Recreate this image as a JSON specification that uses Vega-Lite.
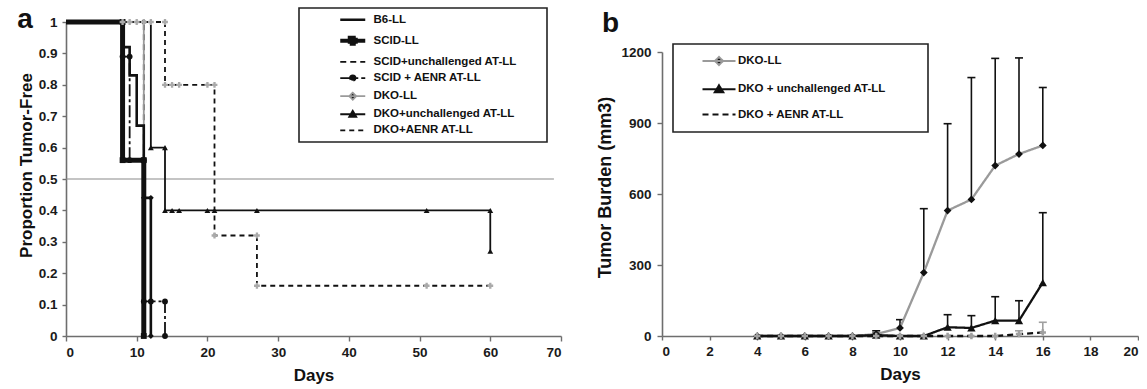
{
  "$schema": "https://vega.github.io/schema/vega-lite/v6.json",
  "background": "white",
  "padding": {"left": 17, "top": 6, "right": 0, "bottom": 0},
  "spacing": 34,
  "resolve": {
    "scale": {"color": "independent", "shape": "independent", "fill": "independent", "strokeDash": "independent"},
    "legend": {"color": "independent", "shape": "independent", "fill": "independent", "strokeDash": "independent"}
  },
  "datasets": {
    "km": [
      {"s": "B6-LL", "day": 0, "p": 1}, {"s": "B6-LL", "day": 8, "p": 0.92}, {"s": "B6-LL", "day": 9, "p": 0.83}, {"s": "B6-LL", "day": 10, "p": 0.67}, {"s": "B6-LL", "day": 11, "p": 0.44}, {"s": "B6-LL", "day": 12, "p": 0},
      {"s": "SCID-LL", "day": 0, "p": 1}, {"s": "SCID-LL", "day": 8, "p": 1}, {"s": "SCID-LL", "day": 8, "p": 0.56}, {"s": "SCID-LL", "day": 11, "p": 0.56}, {"s": "SCID-LL", "day": 11, "p": 0},
      {"s": "SCID+unchallenged AT-LL", "day": 0, "p": 1}, {"s": "SCID+unchallenged AT-LL", "day": 11, "p": 1}, {"s": "SCID+unchallenged AT-LL", "day": 11, "p": 0},
      {"s": "SCID + AENR AT-LL", "day": 0, "p": 1}, {"s": "SCID + AENR AT-LL", "day": 8, "p": 0.89}, {"s": "SCID + AENR AT-LL", "day": 9, "p": 0.89}, {"s": "SCID + AENR AT-LL", "day": 9, "p": 0.56}, {"s": "SCID + AENR AT-LL", "day": 11, "p": 0.56}, {"s": "SCID + AENR AT-LL", "day": 11, "p": 0.11}, {"s": "SCID + AENR AT-LL", "day": 12, "p": 0.11}, {"s": "SCID + AENR AT-LL", "day": 14, "p": 0.11}, {"s": "SCID + AENR AT-LL", "day": 14, "p": 0},
      {"s": "DKO-LL", "day": 0, "p": 1}, {"s": "DKO-LL", "day": 11, "p": 1}, {"s": "DKO-LL", "day": 11, "p": 0.44}, {"s": "DKO-LL", "day": 12, "p": 0.44}, {"s": "DKO-LL", "day": 12, "p": 0},
      {"s": "DKO+unchallenged AT-LL", "day": 0, "p": 1}, {"s": "DKO+unchallenged AT-LL", "day": 12, "p": 0.6}, {"s": "DKO+unchallenged AT-LL", "day": 14, "p": 0.6}, {"s": "DKO+unchallenged AT-LL", "day": 14, "p": 0.4}, {"s": "DKO+unchallenged AT-LL", "day": 15, "p": 0.4}, {"s": "DKO+unchallenged AT-LL", "day": 16, "p": 0.4}, {"s": "DKO+unchallenged AT-LL", "day": 20, "p": 0.4}, {"s": "DKO+unchallenged AT-LL", "day": 21, "p": 0.4}, {"s": "DKO+unchallenged AT-LL", "day": 27, "p": 0.4}, {"s": "DKO+unchallenged AT-LL", "day": 51, "p": 0.4}, {"s": "DKO+unchallenged AT-LL", "day": 60, "p": 0.4}, {"s": "DKO+unchallenged AT-LL", "day": 60, "p": 0.27},
      {"s": "DKO+AENR AT-LL", "day": 0, "p": 1}, {"s": "DKO+AENR AT-LL", "day": 8, "p": 1}, {"s": "DKO+AENR AT-LL", "day": 9, "p": 1}, {"s": "DKO+AENR AT-LL", "day": 10, "p": 1}, {"s": "DKO+AENR AT-LL", "day": 11, "p": 1}, {"s": "DKO+AENR AT-LL", "day": 12, "p": 1}, {"s": "DKO+AENR AT-LL", "day": 14, "p": 1}, {"s": "DKO+AENR AT-LL", "day": 14, "p": 0.8}, {"s": "DKO+AENR AT-LL", "day": 15, "p": 0.8}, {"s": "DKO+AENR AT-LL", "day": 16, "p": 0.8}, {"s": "DKO+AENR AT-LL", "day": 20, "p": 0.8}, {"s": "DKO+AENR AT-LL", "day": 21, "p": 0.8}, {"s": "DKO+AENR AT-LL", "day": 21, "p": 0.32}, {"s": "DKO+AENR AT-LL", "day": 27, "p": 0.32}, {"s": "DKO+AENR AT-LL", "day": 27, "p": 0.16}, {"s": "DKO+AENR AT-LL", "day": 51, "p": 0.16}, {"s": "DKO+AENR AT-LL", "day": 60, "p": 0.16}
    ],
    "burden": [
      {"s": "DKO-LL", "day": 4, "mean": 0, "upper": null}, {"s": "DKO-LL", "day": 5, "mean": 0, "upper": null}, {"s": "DKO-LL", "day": 6, "mean": 0, "upper": null}, {"s": "DKO-LL", "day": 7, "mean": 0, "upper": null}, {"s": "DKO-LL", "day": 8, "mean": 0, "upper": null}, {"s": "DKO-LL", "day": 9, "mean": 8, "upper": 22}, {"s": "DKO-LL", "day": 10, "mean": 34, "upper": 69}, {"s": "DKO-LL", "day": 11, "mean": 268, "upper": 538}, {"s": "DKO-LL", "day": 12, "mean": 530, "upper": 897}, {"s": "DKO-LL", "day": 13, "mean": 577, "upper": 1092}, {"s": "DKO-LL", "day": 14, "mean": 720, "upper": 1173}, {"s": "DKO-LL", "day": 15, "mean": 769, "upper": 1175}, {"s": "DKO-LL", "day": 16, "mean": 805, "upper": 1050},
      {"s": "DKO + unchallenged AT-LL", "day": 4, "mean": 0, "upper": null}, {"s": "DKO + unchallenged AT-LL", "day": 5, "mean": 0, "upper": null}, {"s": "DKO + unchallenged AT-LL", "day": 6, "mean": 0, "upper": null}, {"s": "DKO + unchallenged AT-LL", "day": 7, "mean": 0, "upper": null}, {"s": "DKO + unchallenged AT-LL", "day": 8, "mean": 0, "upper": null}, {"s": "DKO + unchallenged AT-LL", "day": 9, "mean": 4, "upper": 12}, {"s": "DKO + unchallenged AT-LL", "day": 10, "mean": 0, "upper": null}, {"s": "DKO + unchallenged AT-LL", "day": 11, "mean": 0, "upper": null}, {"s": "DKO + unchallenged AT-LL", "day": 12, "mean": 37, "upper": 90}, {"s": "DKO + unchallenged AT-LL", "day": 13, "mean": 34, "upper": 86}, {"s": "DKO + unchallenged AT-LL", "day": 14, "mean": 65, "upper": 166}, {"s": "DKO + unchallenged AT-LL", "day": 15, "mean": 65, "upper": 149}, {"s": "DKO + unchallenged AT-LL", "day": 16, "mean": 226, "upper": 521},
      {"s": "DKO + AENR AT-LL", "day": 4, "mean": 0, "upper": null}, {"s": "DKO + AENR AT-LL", "day": 5, "mean": 0, "upper": null}, {"s": "DKO + AENR AT-LL", "day": 6, "mean": 0, "upper": null}, {"s": "DKO + AENR AT-LL", "day": 7, "mean": 0, "upper": null}, {"s": "DKO + AENR AT-LL", "day": 8, "mean": 0, "upper": null}, {"s": "DKO + AENR AT-LL", "day": 9, "mean": 0, "upper": null}, {"s": "DKO + AENR AT-LL", "day": 10, "mean": 0, "upper": null}, {"s": "DKO + AENR AT-LL", "day": 11, "mean": 0, "upper": null}, {"s": "DKO + AENR AT-LL", "day": 12, "mean": 0, "upper": null}, {"s": "DKO + AENR AT-LL", "day": 13, "mean": 0, "upper": null}, {"s": "DKO + AENR AT-LL", "day": 14, "mean": 0, "upper": null}, {"s": "DKO + AENR AT-LL", "day": 15, "mean": 8, "upper": 22}, {"s": "DKO + AENR AT-LL", "day": 16, "mean": 15, "upper": 58}
    ]
  },
  "hconcat": [
    {
      "width": 495,
      "height": 314,
      "data": {"name": "km"},
      "title": {"text": "a", "anchor": "start", "frame": "bounds", "fontSize": 28, "fontWeight": "bold", "font": "Liberation Sans", "color": "#111", "baseline": "alphabetic", "offset": 0, "dx": 0, "dy": 49},
      "layer": [
        {
          "data": {"values": [{"level": 0.5, "from": 0, "to": 69}]},
          "mark": {"type": "rule", "color": "#8a8a8a", "strokeWidth": 1.2},
          "encoding": {
            "y": {"field": "level", "type": "quantitative", "scale": {"domain": [0, 1], "nice": false},
              "axis": {"values": [0, 0.1, 0.2, 0.3, 0.4, 0.5, 0.6, 0.7, 0.8, 0.9, 1], "tickCount": 11, "labelExpr": "format(datum.value, '~g')", "title": "Proportion Tumor-Free", "tickSize": 4, "labelPadding": 5, "titlePadding": 3, "titleFontSize": 17, "titleY": 143, "labelOverlap": false, "labelSeparation": 0}},
            "x": {"field": "from", "type": "quantitative", "scale": {"domain": [0, 70], "nice": false},
              "axis": {"values": [0, 5, 10, 15, 20, 25, 30, 35, 40, 45, 50, 55, 60, 65, 70], "labelExpr": "datum.value % 10 === 0 ? datum.label : ''", "tickSize": {"condition": {"test": "datum.value % 10 !== 0", "value": 3}, "value": 5}, "title": "Days", "labelPadding": 4, "titlePadding": 9, "titleFontSize": 17, "labelOverlap": false}},
            "x2": {"field": "to"}
          }
        },
        {
          "transform": [{"filter": {"field": "s", "oneOf": ["SCID+unchallenged AT-LL", "SCID + AENR AT-LL", "DKO-LL", "DKO+unchallenged AT-LL", "DKO+AENR AT-LL"]}}],
          "mark": {"type": "line", "interpolate": "step-after", "strokeWidth": 1.8},
          "encoding": {
            "x": {"field": "day", "type": "quantitative", "scale": {"domain": [0, 70], "nice": false},
              "axis": {"values": [0, 5, 10, 15, 20, 25, 30, 35, 40, 45, 50, 55, 60, 65, 70], "labelExpr": "datum.value % 10 === 0 ? datum.label : ''", "tickSize": {"condition": {"test": "datum.value % 10 !== 0", "value": 3}, "value": 5}, "title": "Days", "labelPadding": 4, "titlePadding": 9, "titleFontSize": 17, "labelOverlap": false}},
            "y": {"field": "p", "type": "quantitative", "scale": {"domain": [0, 1], "nice": false},
              "axis": {"values": [0, 0.1, 0.2, 0.3, 0.4, 0.5, 0.6, 0.7, 0.8, 0.9, 1], "tickCount": 11, "labelExpr": "format(datum.value, '~g')", "title": "Proportion Tumor-Free", "tickSize": 4, "labelPadding": 5, "titlePadding": 3, "titleFontSize": 17, "titleY": 143, "labelOverlap": false, "labelSeparation": 0}},
            "color": {"field": "s", "type": "nominal",
              "scale": {"domain": ["B6-LL", "SCID-LL", "SCID+unchallenged AT-LL", "SCID + AENR AT-LL", "DKO-LL", "DKO+unchallenged AT-LL", "DKO+AENR AT-LL"], "range": ["#111111", "#111111", "#111111", "#111111", "#9a9a9a", "#111111", "#111111"]},
              "legend": {
                "orient": "none", "legendX": 233, "legendY": -14, "direction": "vertical",
                "title": ".", "titleOrient": "right", "titleOpacity": 0, "titleFontSize": 11, "titlePadding": 20,
                "padding": 6, "rowPadding": 3.1, "symbolSize": 100, "symbolOffset": 42, "labelOffset": 15,
                "strokeColor": "#222", "labelFontSize": 11.5,
                "encode": {
                  "legend": {"update": {"strokeWidth": {"value": 1.6}}},
                  "symbols": {"update": {
                    "shape": {"signal": "datum.value === 'SCID-LL' ? 'M-2.5,0H2.5M-0.6,-0.6H0.6V0.6H-0.6Z' : datum.value === 'SCID + AENR AT-LL' ? 'M-2.5,0H2.5M-0.55,0A0.55,0.55,0,1,1,0.55,0A0.55,0.55,0,1,1,-0.55,0Z' : datum.value === 'DKO-LL' ? 'M-2.5,0H2.5M0,-0.7L0.7,0L0,0.7L-0.7,0Z' : datum.value === 'DKO+unchallenged AT-LL' ? 'M-2.5,0H2.5M0,-0.7L0.7,0.5H-0.7Z' : 'M-2.5,0H2.5'"},
                    "fill": {"signal": "indexof(['SCID-LL','SCID + AENR AT-LL','DKO-LL','DKO+unchallenged AT-LL'], datum.value) >= 0 ? '#111' : 'transparent'"},
                    "strokeWidth": {"signal": "datum.value === 'SCID-LL' ? 4 : datum.value === 'B6-LL' ? 2.5 : 1.8"},
                    "strokeDash": {"signal": "(datum.value === 'SCID+unchallenged AT-LL' || datum.value === 'DKO+AENR AT-LL') ? [4,4] : datum.value === 'SCID + AENR AT-LL' ? [11,4,3,4] : [1,0]"}
                  }}
                }
              }},
            "strokeDash": {"field": "s", "type": "nominal",
              "scale": {"domain": ["B6-LL", "SCID-LL", "SCID+unchallenged AT-LL", "SCID + AENR AT-LL", "DKO-LL", "DKO+unchallenged AT-LL", "DKO+AENR AT-LL"], "range": [[1, 0], [1, 0], [6, 4], [12, 3, 3, 3], [1, 0], [1, 0], [5, 4]]},
              "legend": null}
          }
        },
        {
          "transform": [{"filter": {"field": "s", "equal": "B6-LL"}}],
          "mark": {"type": "line", "interpolate": "step-after", "strokeWidth": 2.6},
          "encoding": {
            "x": {"field": "day", "type": "quantitative"},
            "y": {"field": "p", "type": "quantitative"},
            "color": {"field": "s", "type": "nominal"},
            "strokeDash": {"field": "s", "type": "nominal", "legend": null}
          }
        },
        {
          "transform": [{"filter": {"field": "s", "equal": "SCID-LL"}}],
          "mark": {"type": "line", "interpolate": "step-after", "strokeWidth": 5},
          "encoding": {
            "x": {"field": "day", "type": "quantitative"},
            "y": {"field": "p", "type": "quantitative"},
            "color": {"field": "s", "type": "nominal"},
            "strokeDash": {"field": "s", "type": "nominal", "legend": null}
          }
        },
        {
          "transform": [
            {"filter": {"field": "s", "oneOf": ["SCID-LL", "SCID + AENR AT-LL", "DKO-LL", "DKO+unchallenged AT-LL", "DKO+AENR AT-LL"]}},
            {"filter": "datum.day > 0"}
          ],
          "mark": {"type": "point", "filled": true, "opacity": 1, "size": 34},
          "encoding": {
            "x": {"field": "day", "type": "quantitative"},
            "y": {"field": "p", "type": "quantitative"},
            "shape": {"field": "s", "type": "nominal", "scale": {"domain": ["SCID-LL", "SCID + AENR AT-LL", "DKO-LL", "DKO+unchallenged AT-LL", "DKO+AENR AT-LL"], "range": ["square", "circle", "diamond", "triangle-up", "cross"]}, "legend": null},
            "fill": {"field": "s", "type": "nominal", "scale": {"domain": ["SCID-LL", "SCID + AENR AT-LL", "DKO-LL", "DKO+unchallenged AT-LL", "DKO+AENR AT-LL"], "range": ["#111111", "#111111", "#111111", "#111111", "#aaaaaa"]}, "legend": null}
          }
        }
      ]
    },
    {
      "width": 476,
      "height": 314,
      "data": {"name": "burden"},
      "title": {"text": "b", "anchor": "start", "frame": "bounds", "fontSize": 28, "fontWeight": "bold", "font": "Liberation Sans", "color": "#111", "baseline": "alphabetic", "offset": 0, "dx": 5, "dy": 38},
      "layer": [
        {
          "transform": [{"filter": "datum.upper != null && datum.s !== 'DKO + AENR AT-LL'"}],
          "mark": {"type": "rule", "strokeWidth": 1.6, "color": "#111111"},
          "encoding": {
            "x": {"field": "day", "type": "quantitative", "scale": {"domain": [0, 20], "nice": false}},
            "y": {"field": "mean", "type": "quantitative", "scale": {"domain": [0, 1200], "range": [314, 30], "nice": false}},
            "y2": {"field": "upper"}
          }
        },
        {
          "transform": [{"filter": "datum.upper != null && datum.s === 'DKO + AENR AT-LL'"}],
          "mark": {"type": "rule", "strokeWidth": 1.6, "color": "#a0a0a0"},
          "encoding": {
            "x": {"field": "day", "type": "quantitative"},
            "y": {"field": "mean", "type": "quantitative"},
            "y2": {"field": "upper"}
          }
        },
        {
          "transform": [{"filter": "datum.upper != null && datum.s !== 'DKO + AENR AT-LL'"}],
          "mark": {"type": "tick", "orient": "horizontal", "thickness": 1.6, "opacity": 1, "color": "#111111"},
          "encoding": {
            "x": {"field": "day", "type": "quantitative"},
            "y": {"field": "upper", "type": "quantitative"},
            "size": {"value": 8}
          }
        },
        {
          "transform": [{"filter": "datum.upper != null && datum.s === 'DKO + AENR AT-LL'"}],
          "mark": {"type": "tick", "orient": "horizontal", "thickness": 1.6, "opacity": 1, "color": "#a0a0a0"},
          "encoding": {
            "x": {"field": "day", "type": "quantitative"},
            "y": {"field": "upper", "type": "quantitative"},
            "size": {"value": 8}
          }
        },
        {
          "mark": {"type": "line", "strokeWidth": 2.3},
          "encoding": {
            "x": {"field": "day", "type": "quantitative", "scale": {"domain": [0, 20], "nice": false},
              "axis": {"values": [0, 2, 4, 6, 8, 10, 12, 14, 16, 18, 20], "title": "Days", "tickSize": 4, "labelPadding": 4, "titlePadding": 9, "titleFontSize": 17, "labelOverlap": false}},
            "y": {"field": "mean", "type": "quantitative", "scale": {"domain": [0, 1200], "range": [314, 30], "nice": false},
              "axis": {"values": [0, 300, 600, 900, 1200], "format": "d", "title": "Tumor Burden (mm3)", "tickSize": 5, "labelPadding": 6, "titlePadding": 6, "titleFontSize": 18, "titleY": 165, "labelOverlap": false}},
            "color": {"field": "s", "type": "nominal",
              "scale": {"domain": ["DKO-LL", "DKO + unchallenged AT-LL", "DKO + AENR AT-LL"], "range": ["#9a9a9a", "#111111", "#111111"]},
              "legend": {
                "orient": "none", "legendX": 11, "legendY": 22, "direction": "vertical",
                "title": ".", "titleOrient": "right", "titleOpacity": 0, "titleFontSize": 11, "titlePadding": 27,
                "padding": 11, "rowPadding": 12.3, "symbolSize": 100, "symbolOffset": 29, "labelOffset": 13,
                "strokeColor": "#222", "labelFontSize": 11.5,
                "encode": {
                  "legend": {"update": {"strokeWidth": {"value": 1.6}}},
                  "symbols": {"update": {
                    "shape": {"signal": "datum.value === 'DKO-LL' ? 'M-3.3,0H3.3M0,-0.8L0.8,0L0,0.8L-0.8,0Z' : datum.value === 'DKO + unchallenged AT-LL' ? 'M-3.3,0H3.3M0,-0.8L0.85,0.6H-0.85Z' : 'M-3.3,0H3.3'"},
                    "fill": {"signal": "datum.value === 'DKO + AENR AT-LL' ? 'transparent' : '#111'"},
                    "strokeWidth": {"value": 2},
                    "strokeDash": {"signal": "datum.value === 'DKO + AENR AT-LL' ? [5,5] : [1,0]"}
                  }}
                }
              }},
            "strokeDash": {"field": "s", "type": "nominal",
              "scale": {"domain": ["DKO-LL", "DKO + unchallenged AT-LL", "DKO + AENR AT-LL"], "range": [[1, 0], [1, 0], [6, 4]]},
              "legend": null}
          }
        },
        {
          "transform": [{"filter": {"field": "s", "equal": "DKO-LL"}}],
          "mark": {"type": "point", "shape": "diamond", "filled": true, "opacity": 1, "size": 60, "color": "#111111"},
          "encoding": {
            "x": {"field": "day", "type": "quantitative"},
            "y": {"field": "mean", "type": "quantitative"}
          }
        },
        {
          "transform": [{"filter": {"field": "s", "equal": "DKO + unchallenged AT-LL"}}],
          "mark": {"type": "point", "shape": "triangle-up", "filled": true, "opacity": 1, "size": 70, "color": "#111111"},
          "encoding": {
            "x": {"field": "day", "type": "quantitative"},
            "y": {"field": "mean", "type": "quantitative"}
          }
        },
        {
          "transform": [{"filter": {"field": "s", "equal": "DKO + AENR AT-LL"}}],
          "mark": {"type": "point", "shape": "cross", "filled": true, "opacity": 1, "size": 40, "color": "#a0a0a0"},
          "encoding": {
            "x": {"field": "day", "type": "quantitative"},
            "y": {"field": "mean", "type": "quantitative"}
          }
        }
      ]
    }
  ],
  "config": {
    "view": {"stroke": null},
    "font": "Liberation Sans",
    "axis": {
      "labelFont": "Liberation Sans", "labelFontWeight": "bold", "labelFontSize": 13.5, "labelColor": "#1a1a1a",
      "titleFont": "Liberation Sans", "titleFontWeight": "bold", "titleColor": "#111",
      "domainColor": "#6e6e6e", "domainWidth": 1.6, "tickColor": "#6e6e6e", "tickWidth": 1.4, "grid": false,
      "labelOverlap": false
    },
    "legend": {
      "labelFont": "Liberation Sans", "labelFontWeight": "bold", "labelColor": "#111"
    }
  }
}
